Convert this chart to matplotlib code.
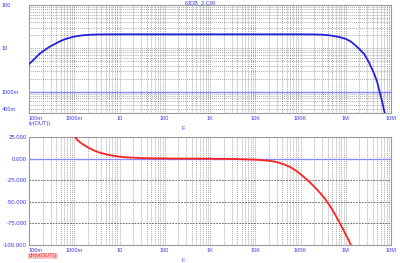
import matplotlib
matplotlib.use("Agg")
import matplotlib.pyplot as plt
from matplotlib.ticker import FixedLocator, NullFormatter

plt.rcParams["font.family"] = ["Liberation Sans", "DejaVu Sans"]

# magnitude |v(OUT)|
freq_mag = [0.1, 0.13, 0.167, 0.2, 0.25, 0.3, 0.36, 0.45, 0.55, 0.65, 0.78, 1.0, 1.3, 1.67,
            2.2, 3, 5, 10, 100, 1e3, 1e4, 1e5, 2e5, 3e5, 4e5, 5e5, 7e5, 1e6, 1.3e6, 1.6e6,
            2e6, 2.57e6, 3.3e6, 4.27e6, 5e6, 5.5e6, 6.3e6, 7.1e6, 7.6e6]
mag = [4.3, 5.6, 7.3, 8.4, 9.9, 11.2, 12.3, 14.0, 15.4, 16.4, 17.4, 18.6, 19.5, 20.1,
       20.5, 20.8, 20.95, 21, 21, 21, 21, 21, 20.9, 20.6, 20.1, 19.5, 18.3, 16.5, 14.3, 11.9,
       9.6, 7.3, 4.6, 2.56, 1.6, 1.07, 0.62, 0.35, 0.28]

# phase ph(v(OUT))
freq_ph = [0.9, 1.0, 1.2, 1.5, 2.0, 2.7, 3.6, 5, 7, 10, 14, 25, 50, 200, 1e3, 3e3, 1e4, 2e4,
           3e4, 4.5e4, 6e4, 8.5e4, 1.17e5, 1.65e5, 2.34e5, 3.3e5, 4.64e5, 6e5, 8e5, 1e6,
           1.15e6, 1.29e6, 1.4e6]
phase = [28, 26, 21, 17, 13, 9.5, 7, 5, 3.5, 2.2, 1.5, 0.8, 0.3, 0, -0.1, -0.4, -1.2, -2.5,
         -4, -7, -10, -15, -21, -28, -36, -45, -56, -66, -78, -88, -94, -100, -106]

x_ticks = [0.1, 1, 10, 100, 1e3, 1e4, 1e5, 1e6, 1e7]
x_labels = ["100m", "1000m", "10", "100", "1K", "10K", "100K", "1M", "10M"]
mag_ticks = [100, 10, 1, 0.4]
mag_labels = ["100", "10", "1000m", "400m"]
ph_ticks = [25, 0, -25, -50, -75, -100]
ph_labels = ["25.000", "0.000", "-25.000", "-50.000", "-75.000", "-100.000"]

blue_txt = "#3c3cf0"
fs = 4.1
grid_kw = dict(color="#7a7a7a", linestyle=(0, (1.2, 1.6)), linewidth=0.5)

fig = plt.figure(figsize=(4, 2.63), dpi=100)
ax1 = fig.add_axes([29 / 400, 1 - 113 / 263, 362 / 400, 108 / 263])
ax2 = fig.add_axes([29 / 400, 1 - 245 / 263, 362 / 400, 108 / 263])

minor_x = [m * 10.0 ** e for e in range(-1, 7) for m in range(2, 10)]

for ax in (ax1, ax2):
    ax.set_xscale("log")
    ax.set_xlim(0.1, 1e7)
    ax.xaxis.set_major_locator(FixedLocator(x_ticks))
    ax.xaxis.set_minor_locator(FixedLocator(minor_x))
    ax.xaxis.set_minor_formatter(NullFormatter())
    ax.set_xticklabels(x_labels)
    ax.tick_params(axis="both", which="both", length=0, labelsize=fs, labelcolor=blue_txt, pad=2)
    ax.grid(True, which="both", axis="x", **grid_kw)
    for s in ax.spines.values():
        s.set_color("#9a9a9a")
        s.set_linewidth(0.8)
    ax.get_xticklabels()[0].set_horizontalalignment("left")

# upper: magnitude
ax1.set_yscale("log")
ax1.set_ylim(0.32, 100)
ax1.yaxis.set_major_locator(FixedLocator(mag_ticks))
minor_y = [m * 10.0 ** e for e in range(-1, 2) for m in range(2, 10)]
ax1.yaxis.set_minor_locator(FixedLocator(minor_y))
ax1.yaxis.set_minor_formatter(NullFormatter())
ax1.set_yticklabels(mag_labels)
ax1.grid(True, which="both", axis="y", **grid_kw)
for lab in ax1.get_yticklabels():
    lab.set_horizontalalignment("left")
ax1.tick_params(axis="y", pad=19.5)
ax1.axhline(1, color="#8888ff", linewidth=1.0, zorder=3)
ax1.plot(freq_mag, mag, color="#2222dd", linewidth=1.3, zorder=4)

# lower: phase
ax2.set_ylim(-100, 25)
ax2.yaxis.set_major_locator(FixedLocator(ph_ticks))
ax2.set_yticklabels(ph_labels)
ax2.tick_params(axis="y", labelsize=4.3, pad=1.5)
ax2.grid(True, which="major", axis="y", color="#555555", linestyle=(0, (2, 1.5)), linewidth=0.6)
ax2.axhline(0, color="#8888ff", linewidth=1.0, zorder=3)
ax2.plot(freq_ph, phase, color="#ff2020", linewidth=1.3, zorder=4)

fig.text(200 / 400, 1 - 3 / 263, "6JDB_2.CIR", color=blue_txt, fontsize=fs,
         ha="center", va="center")
fig.text(29 / 400, 1 - 124 / 263, "(v(OUT))", color=blue_txt, fontsize=fs,
         ha="left", va="center")
fig.text(183 / 400, 1 - 129 / 263, "F", color=blue_txt, fontsize=fs, ha="center", va="center")
fig.text(29 / 400, 1 - 256 / 263, "ph(v(OUT))", color="#ff2020", fontsize=fs,
         ha="left", va="center",
         bbox=dict(facecolor="#ffc8c8", edgecolor="none", pad=0.5))
fig.text(183 / 400, 1 - 260 / 263, "F", color=blue_txt, fontsize=fs, ha="center", va="center")

fig.savefig("out.png", dpi=100)
